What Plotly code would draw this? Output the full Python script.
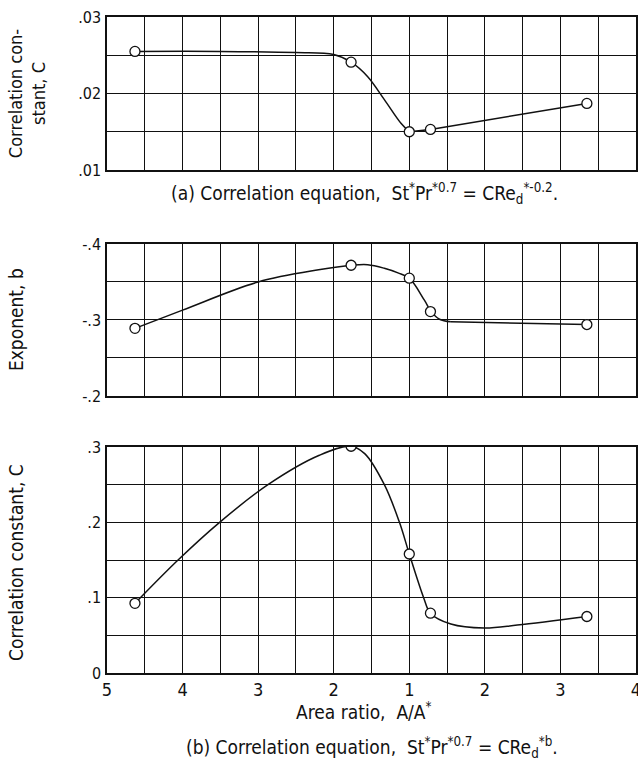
import plotly.graph_objects as go

# ---------------- data ----------------
# Area ratio A/A*, folded at the throat.  Signed values: negative = subsonic
# branch (5 -> 1, left part of the axis), positive = supersonic branch (1 -> 4).
x_tick_labels = ["5", "4", "3", "2", "1", "2", "3", "4"]

point_area_ratio = [-4.63, -1.77, -1.0, 1.28, 3.35]
C_a_points = [0.0255, 0.0241, 0.0150, 0.0153, 0.0187]     # (a) correlation constant
b_points = [-0.289, -0.372, -0.355, -0.311, -0.294]       # (b) exponent
C_b_points = [0.0925, 0.301, 0.158, 0.0794, 0.075]        # (b) correlation constant

# faired curves
curve_a_ar = [-4.63, -3.5, -2.5, -2.0, -1.77, -1.55, -1.33, -1.11, -1.0]
curve_a_C = [0.0255, 0.0255, 0.02535, 0.0251, 0.0241, 0.0222, 0.0192, 0.0161, 0.0150]
line_a_ar = [1.0, 1.28, 3.35]
line_a_C = [0.0150, 0.0153, 0.0187]

curve_b_ar = [-4.63, -4.0, -3.0, -2.2, -1.76, -1.55, -1.33, -1.15, -1.0, 1.2, 1.29, 1.4, 1.55]
curve_b_val = [-0.289, -0.313, -0.350, -0.366, -0.372, -0.3727, -0.368, -0.362, -0.355,
               -0.326, -0.311, -0.301, -0.2976]
line_b_ar = [1.55, 3.35]
line_b_val = [-0.2976, -0.294]

curve_c_ar = [-4.63, -4.06, -3.51, -2.87, -2.19, -1.77, -1.59, -1.33, -1.13, -1.0, 1.19, 1.28,
              1.55, 1.99, 2.43, 3.35]
curve_c_C = [0.0925, 0.15, 0.2, 0.25, 0.289, 0.301, 0.2912, 0.25, 0.2, 0.158, 0.1, 0.0794,
             0.065, 0.0597, 0.0636, 0.075]

# y tick labels
ya_ticks, ya_labels = [0.01, 0.02, 0.03], [".01", ".02", ".03"]
yb_ticks, yb_labels = [-0.4, -0.3, -0.2], ["-.4", "-.3", "-.2"]
yc_ticks, yc_labels = [0, 0.1, 0.2, 0.3], ["0", ".1", ".2", ".3"]


def axis_pos(values):
    """Position on the folded area-ratio axis (0 = A/A* 5 subsonic, 4 = throat)."""
    return [5 + v if v < 0 else 3 + v for v in values]


FONT = "Liberation Sans Narrow, DejaVu Sans Condensed, Arial Narrow, sans-serif"
BLACK = "#111111"

fig = go.Figure()


def add_curve(xs, ys, axes, shape):
    fig.add_trace(go.Scatter(x=axis_pos(xs), y=ys, mode="lines", xaxis=axes[0], yaxis=axes[1],
                             line=dict(color=BLACK, width=1.5, shape=shape, smoothing=1.0),
                             showlegend=False, hoverinfo="skip"))


def add_points(ys, axes):
    fig.add_trace(go.Scatter(x=axis_pos(point_area_ratio), y=ys, mode="markers",
                             xaxis=axes[0], yaxis=axes[1],
                             marker=dict(symbol="circle", size=10, color="white",
                                         line=dict(color=BLACK, width=1.3)),
                             showlegend=False))


add_curve(curve_a_ar, curve_a_C, ("x", "y"), "spline")
add_curve(line_a_ar, line_a_C, ("x", "y"), "linear")
add_points(C_a_points, ("x", "y"))

add_curve(curve_b_ar, curve_b_val, ("x2", "y2"), "spline")
add_curve(line_b_ar, line_b_val, ("x2", "y2"), "linear")
add_points(b_points, ("x2", "y2"))

add_curve(curve_c_ar, curve_c_C, ("x3", "y3"), "spline")
add_points(C_b_points, ("x3", "y3"))

x_major = list(range(len(x_tick_labels)))


def xaxis(anchor, labels):
    return dict(anchor=anchor, range=[0, 7], tickmode="array", tickvals=x_major,
                ticktext=x_tick_labels, showticklabels=labels,
                showgrid=True, gridcolor=BLACK, gridwidth=1, zeroline=False,
                minor=dict(tick0=0, dtick=0.5, showgrid=True, gridcolor=BLACK, gridwidth=1,
                           ticks=""),
                showline=True, linecolor=BLACK, linewidth=1.5, mirror=True,
                ticks="", automargin=False, ticklabeloverflow="allow",
                tickfont=dict(family=FONT, size=18, color=BLACK))


def yaxis(domain, rng, vals, text, minor_step):
    return dict(domain=domain, range=rng, tickmode="array", tickvals=vals, ticktext=text,
                showgrid=True, gridcolor=BLACK, gridwidth=1, zeroline=False,
                minor=dict(tick0=vals[0], dtick=minor_step, showgrid=True, gridcolor=BLACK,
                           gridwidth=1, ticks=""),
                showline=True, linecolor=BLACK, linewidth=1.5, mirror=True,
                ticks="", automargin=False, ticklabelstandoff=1,
                tickfont=dict(family=FONT, size=16, color=BLACK))


fig.update_layout(
    width=638, height=766,
    margin=dict(l=107, r=2, t=17, b=93),
    paper_bgcolor="white", plot_bgcolor="white",
    font=dict(family=FONT, size=19, color=BLACK),
    xaxis=xaxis("y", False),
    xaxis2=xaxis("y2", False),
    xaxis3=xaxis("y3", True),
    yaxis=yaxis([0.7668, 1.0], [0.01, 0.03], ya_ticks, ya_labels, 0.005),
    yaxis2=yaxis([0.4223, 0.654], [-0.2, -0.4], yb_ticks, yb_labels, 0.05),
    yaxis3=yaxis([0.0, 0.3445], [0, 0.3], yc_ticks, yc_labels, 0.05),
)

ann = dict(xref="paper", yref="paper", showarrow=False,
           font=dict(family=FONT, size=19, color=BLACK), xanchor="center", yanchor="middle")

fig.add_annotation(x=-0.151, y=0.8826, text="Correlation con-<br>stant, C", textangle=-90,
                   **{**ann, "font": dict(family=FONT, size=18, color=BLACK)})
fig.add_annotation(x=-0.172, y=0.538, text="Exponent, b", textangle=-90, **ann)
fig.add_annotation(x=-0.172, y=0.1677, text="Correlation constant, C", textangle=-90, **ann)

fig.add_annotation(x=0.4877, y=0.7317,
                   text="(a) Correlation equation,  St<sup>*</sup>Pr<sup>*0.7</sup> = "
                        "CRe<sub>d</sub><sup>*-0.2</sup>.", **ann)
fig.add_annotation(x=0.486, y=-0.0579, text="Area ratio,  A/A<sup>*</sup>", **ann)
fig.add_annotation(x=0.501, y=-0.1143,
                   text="(b) Correlation equation,  St<sup>*</sup>Pr<sup>*0.7</sup> = "
                        "CRe<sub>d</sub><sup>*b</sup>.", **ann)

fig.write_html("out.html", config={"displayModeBar": False},
               post_script="document.body.style.margin='0px';"
                           "document.body.style.overflow='hidden';")
